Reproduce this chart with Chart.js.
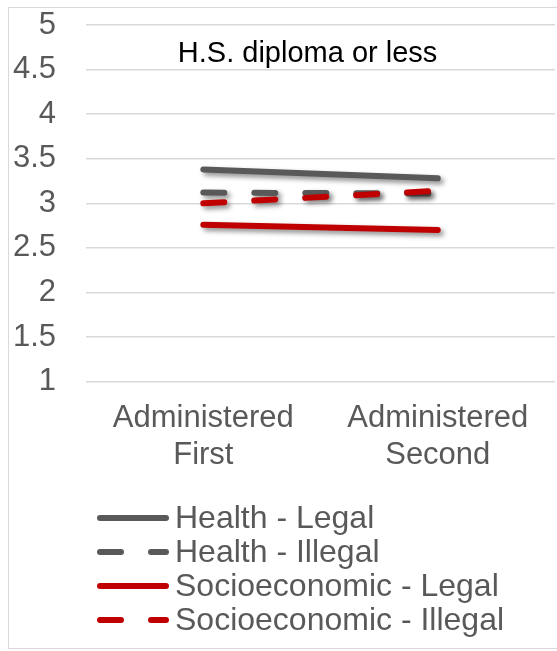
<!DOCTYPE html>
<html>
<head>
<meta charset="utf-8">
<script src="https://cdn.jsdelivr.net/npm/chart.js@4"></script>
<style>
  html, body { margin: 0; padding: 0; background: #fff; overflow: hidden; }
  #wrap {
    position: absolute; left: 8px; top: 7px;
    width: 560px; height: 640px;
    border: 1px solid #d9d9d9;
  }
</style>
</head>
<body>
<div id="wrap"><canvas id="chart"></canvas></div>
<script>
const categories = [['Administered', 'First'], ['Administered', 'Second']];
const seriesNames = ['Health - Legal', 'Health - Illegal', 'Socioeconomic - Legal', 'Socioeconomic - Illegal'];
const healthLegal = [3.38, 3.28];
const healthIllegal = [3.12, 3.11];
const socioLegal = [2.76, 2.70];
const socioIllegal = [3.00, 3.14];
const yMin = 1, yMax = 5, yStep = 0.5;
const chartTitle = 'H.S. diploma or less';

const GREY = '#595959';
const RED = '#C00000';
const DASH = [21, 30];
const FONT = '"Liberation Sans", Arial, sans-serif';

// drop shadow under the lines, like the Excel original
const shadowPlugin = {
  id: 'shadow',
  beforeDatasetsDraw(chart) {
    const c = chart.ctx;
    c.save();
    c.shadowColor = 'rgba(0,0,0,0.45)';
    c.shadowBlur = 5;
    c.shadowOffsetX = 3;
    c.shadowOffsetY = 3;
  },
  afterDatasetsDraw(chart) {
    chart.ctx.restore();
  }
};

// title sits inside the plot, legend is a single left-aligned column
const decorPlugin = {
  id: 'decor',
  afterDraw(chart) {
    const c = chart.ctx;
    const area = chart.chartArea;
    c.save();
    c.font = '29px ' + FONT;
    c.fillStyle = '#000';
    c.textAlign = 'center';
    c.textBaseline = 'middle';
    c.fillText(chartTitle, (area.left + area.right) / 2 - 13, area.top + 29);

    c.font = '32px ' + FONT;
    c.fillStyle = GREY;
    c.textAlign = 'left';
    chart.data.datasets.forEach((ds, i) => {
      const y = 510 + i * 34;
      c.beginPath();
      c.lineWidth = 6;
      c.lineCap = 'round';
      c.strokeStyle = ds.borderColor;
      c.setLineDash(ds.borderDash || []);
      c.moveTo(91, y);
      c.lineTo(157, y);
      c.stroke();
      c.setLineDash([]);
      c.fillText(ds.label, 166, y + 1);
    });
    c.restore();
  }
};

const line = (label, data, color, dashed, order) => ({
  label,
  data,
  borderColor: color,
  backgroundColor: color,
  borderWidth: 6,
  borderDash: dashed ? DASH : [],
  borderCapStyle: 'round',
  pointRadius: 0,
  tension: 0,
  order
});

new Chart(document.getElementById('chart'), {
  type: 'line',
  data: {
    labels: categories,
    datasets: [
      line(seriesNames[0], healthLegal, GREY, false, 3),
      line(seriesNames[1], healthIllegal, GREY, true, 2),
      line(seriesNames[2], socioLegal, RED, false, 1),
      line(seriesNames[3], socioIllegal, RED, true, 0)
    ]
  },
  options: {
    responsive: true,
    maintainAspectRatio: false,
    animation: false,
    layout: { padding: { left: 4, right: 14, top: 0, bottom: 156 } },
    plugins: {
      legend: { display: false },
      tooltip: { enabled: false }
    },
    scales: {
      x: {
        offset: true,
        grid: { display: false, drawTicks: false },
        border: { display: false },
        afterFit(scale) {
          scale.paddingLeft = 0;
          scale.paddingRight = 0;
        },
        ticks: {
          color: GREY,
          font: { family: FONT, size: 31, lineHeight: 1.2 },
          padding: 18,
          maxRotation: 0
        }
      },
      y: {
        min: yMin,
        max: yMax,
        grid: { color: '#d9d9d9', lineWidth: 1.5, drawTicks: false },
        border: { display: false },
        afterFit(scale) {
          // tick padding only on the plot side, not vertically
          scale.width -= scale.options.ticks.padding;
          scale.paddingTop = 17;
          scale.paddingBottom = 17;
        },
        ticks: {
          stepSize: yStep,
          autoSkip: false,
          color: GREY,
          font: { family: FONT, size: 31 },
          padding: 30,
          callback: v => String(v)
        }
      }
    }
  },
  plugins: [shadowPlugin, decorPlugin]
});
</script>
</body>
</html>
